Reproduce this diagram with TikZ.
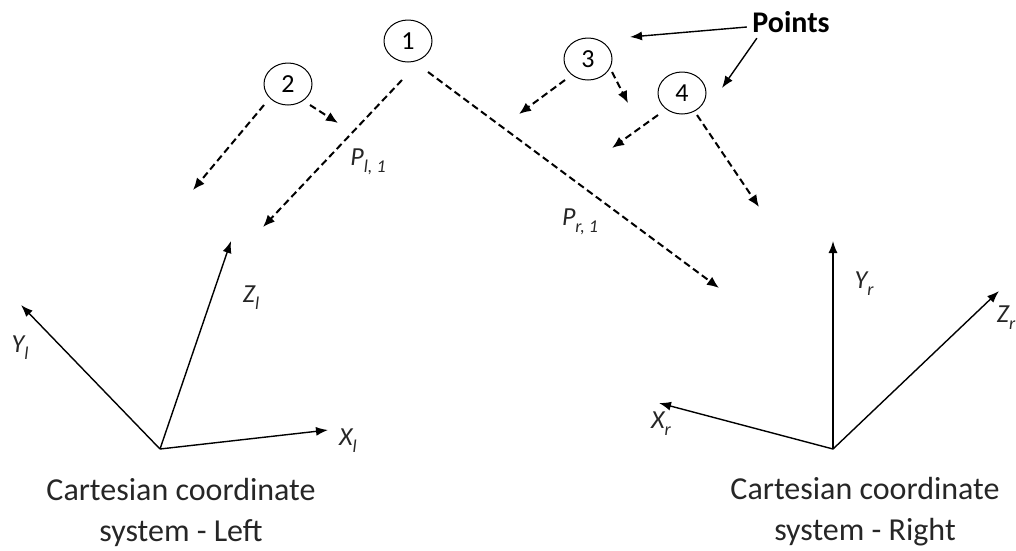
\documentclass[tikz,border=0pt]{standalone}
\usepackage{fontspec}
\setmainfont{Carlito}
\usetikzlibrary{arrows.meta,shapes.geometric}
\newcommand{\lowsub}[1]{\raisebox{-0.28em}{\fontsize{18}{18}\selectfont #1}}
\begin{document}
\begin{tikzpicture}[x=1pt,y=-1pt,
  pt/.style={draw,ellipse,line width=1pt,minimum width=48pt,minimum height=42pt,inner sep=0pt,font=\fontsize{26}{28}\selectfont},
  dsh/.style={line width=2pt,dash pattern=on 7pt off 4pt,-{Latex[length=12pt,width=10pt]}},
  ax/.style={line width=1.4pt,-{Latex[length=12pt,width=9pt]}},
  sol/.style={line width=1.4pt,-{Latex[length=12pt,width=9pt]}},
  lab/.style={font=\fontsize{26}{28}\selectfont\itshape,text=black!85},
  captxt/.style={font=\fontsize{32}{41}\selectfont,align=center,text=black!85}]
\useasboundingbox (0,0) rectangle (1016,550);
% points
\node[pt] (c1) at (408,41) {1};
\node[pt] (c2) at (288,84) {2};
\node[pt] (c3) at (588,59) {3};
\node[pt] (c4) at (682,93) {4};
% dashed rays
\coordinate (s1a) at (402,80); \coordinate (t1a) at (263,227);
\coordinate (s1b) at (428,72); \coordinate (t1b) at (719,288);
\coordinate (s2a) at (264,105); \coordinate (t2a) at (193,190);
\coordinate (s2b) at (310,105); \coordinate (t2b) at (338,123);
\coordinate (s3a) at (565,80); \coordinate (t3a) at (519,114);
\coordinate (s3b) at (612,72); \coordinate (t3b) at (628,103);
\coordinate (s4a) at (658,115); \coordinate (t4a) at (612,148);
\coordinate (s4b) at (697,115); \coordinate (t4b) at (759,207);
\draw[dsh] (s1a) -- (t1a);
\draw[dsh] (s1b) -- (t1b);
\draw[dsh] (s2a) -- (t2a);
\draw[dsh] (s2b) -- (t2b);
\draw[dsh] (s3a) -- (t3a);
\draw[dsh] (s3b) -- (t3b);
\draw[dsh] (s4a) -- (t4a);
\draw[dsh] (s4b) -- (t4b);
\node[lab] (pl) at (368,162) {P\lowsub{l, 1}};
\node[lab] (pr) at (580,222) {P\lowsub{r, 1}};
% Points label
\node[font=\fontsize{30}{32}\selectfont\bfseries] (points) at (791,22) {Points};
\coordinate (pa) at (630,37);
\coordinate (pb) at (722,88);
\draw[sol] (points.west) ++(-2,5) -- (pa);
\draw[sol] (points.south west) ++(8,2) -- (pb);
% left coordinate system
\coordinate (ol) at (160,449);
\coordinate (xl) at (328,430);
\coordinate (yl) at (21,305);
\coordinate (zl) at (231,241);
\draw[ax] (ol) -- (xl);
\draw[ax] (ol) -- (yl);
\draw[ax] (ol) -- (zl);
\node[lab] (lxl) at (348,441) {X\lowsub{l}};
\node[lab] (lyl) at (20,348) {Y\lowsub{l}};
\node[lab] (lzl) at (251,298) {Z\lowsub{l}};
\node[captxt] (capl) at (181,512) {Cartesian coordinate\\system - Left};
% right coordinate system
\coordinate (or) at (833,449);
\coordinate (xr) at (659,403);
\coordinate (yr) at (833,241);
\coordinate (zr) at (999,291);
\draw[ax] (or) -- (xr);
\draw[ax] (or) -- (yr);
\draw[ax] (or) -- (zr);
\node[lab] (lxr) at (661,424) {X\lowsub{r}};
\node[lab] (lyr) at (864,284) {Y\lowsub{r}};
\node[lab] (lzr) at (1006,318) {Z\lowsub{r}};
\node[captxt] (capr) at (865,512) {Cartesian coordinate\\system - Right};
\end{tikzpicture}
\end{document}
